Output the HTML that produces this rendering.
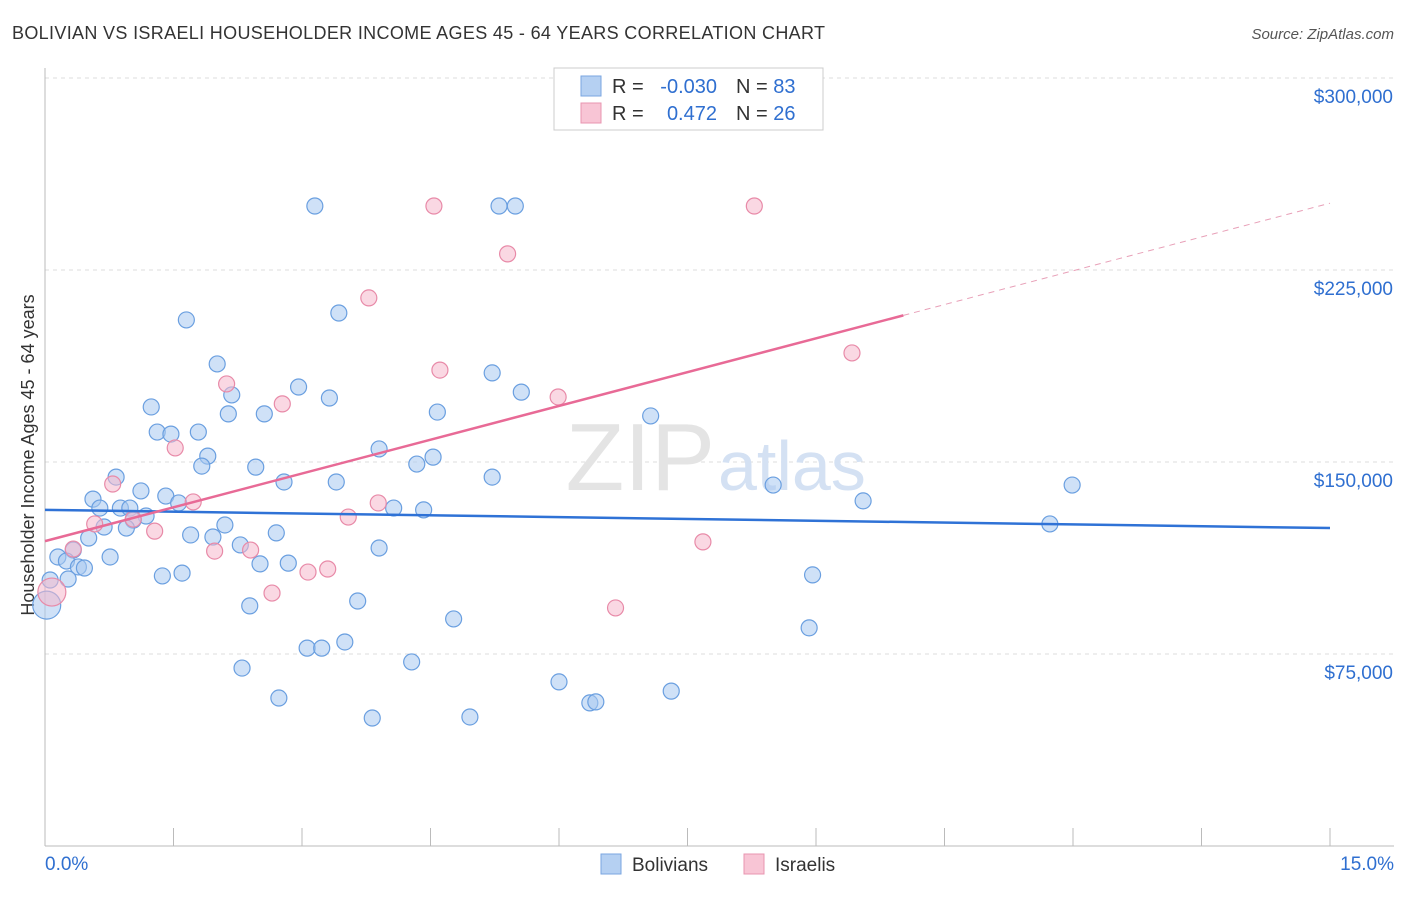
<!DOCTYPE html>
<html><head><meta charset="utf-8"><style>
body{margin:0;background:#fff;font-family:"Liberation Sans",sans-serif;}
svg text{font-family:"Liberation Sans",sans-serif;}
</style></head><body>
<svg width="1406" height="892" xmlns="http://www.w3.org/2000/svg">
<text x="12" y="39" font-size="18" fill="#333" textLength="813">BOLIVIAN VS ISRAELI HOUSEHOLDER INCOME AGES 45 - 64 YEARS CORRELATION CHART</text>
<text x="1394" y="39" font-size="15" fill="#555" font-style="italic" text-anchor="end">Source: ZipAtlas.com</text>
<g id="grid"></g>
<text x="715" y="490" font-size="96" fill="#e4e4e4" text-anchor="end" font-family="Liberation Serif">ZIP</text>
<text x="718" y="490" font-size="70" fill="#d4e1f3">atlas</text>
<g id="axes"></g>
<text transform="translate(34,455) rotate(-90)" font-size="18" fill="#333" text-anchor="middle">Householder Income Ages 45 - 64 years</text>
<g id="pts"></g>
<g id="lines"></g>
<g>
<rect x="554" y="68" width="269" height="62" fill="#fff" stroke="#ccc"/>
<rect x="581" y="76" width="20" height="20" fill="#b5d0f2" stroke="#7aa6e0"/>
<rect x="581" y="103" width="20" height="20" fill="#f8c5d5" stroke="#e895b0"/>
<text x="612" y="93" font-size="20" fill="#333">R =</text>
<text x="717" y="93" font-size="20" fill="#2f6fd0" text-anchor="end">-0.030</text>
<text x="736" y="93" font-size="20" fill="#333">N = <tspan fill="#2f6fd0">83</tspan></text>
<text x="612" y="120" font-size="20" fill="#333">R =</text>
<text x="717" y="120" font-size="20" fill="#2f6fd0" text-anchor="end">0.472</text>
<text x="736" y="120" font-size="20" fill="#333">N = <tspan fill="#2f6fd0">26</tspan></text>
</g>
<g>
<rect x="601" y="854" width="20" height="20" fill="#b5d0f2" stroke="#7aa6e0"/>
<text x="632" y="871" font-size="19" fill="#333">Bolivians</text>
<rect x="744" y="854" width="20" height="20" fill="#f8c5d5" stroke="#e895b0"/>
<text x="775" y="871" font-size="19" fill="#333">Israelis</text>
</g>
</svg>
<script>
const yTicks=[75000,150000,225000,300000];
const yTickLabels=["$75,000","$150,000","$225,000","$300,000"];
const xTickLabels=["0.0%","15.0%"];
const blueX=[3.15,5.30,5.49,3.43,1.65,2.01,5.22,2.96,5.56,3.32,2.18,1.24,2.56,2.14,4.58,7.07,1.31,1.79,1.47,3.90,1.90,4.53,1.83,2.46,4.34,0.83,5.22,2.79,3.40,8.50,11.99,1.12,1.41,0.56,1.56,9.55,0.64,0.88,0.99,4.07,4.42,1.18,1.03,0.69,0.95,2.10,11.73,2.70,1.70,1.96,0.51,2.28,3.90,0.33,0.76,0.15,0.25,0.39,0.46,2.51,2.84,1.37,1.60,8.96,0.27,0.06,3.65,2.39,4.77,8.92,3.50,3.06,3.23,4.28,2.30,6.00,7.31,2.73,6.36,6.43,3.82,4.96,0.02];
const blueY=[250,250,250,208.2,205.5,188.3,184.8,179.3,177.3,175.0,176.2,171.5,168.8,168.8,169.5,168.0,161.7,161.7,160.9,155.1,152.3,151.9,148.4,148.0,149.2,144.1,144.1,142.2,142.2,141.0,141.0,138.7,136.7,135.5,134.0,134.8,132.0,132.0,132.0,132.0,131.3,128.9,127.3,124.6,124.2,125.4,125.8,122.3,121.5,120.7,120.3,117.6,116.4,115.6,112.9,112.9,111.3,109.0,108.6,110.2,110.5,105.5,106.6,105.9,104.3,103.9,95.7,93.8,88.7,85.2,79.7,77.3,77.3,71.9,69.5,64.1,60.5,57.8,55.9,56.3,50.0,50.4,94.1];
const pinkX=[4.54,8.28,5.40,3.78,9.42,4.61,2.12,5.99,2.77,1.52,0.79,1.73,3.89,0.58,1.03,1.28,3.54,0.33,2.40,1.98,7.68,3.07,3.30,2.65,6.66,0.08];
const pinkY=[250,250,231.3,214.1,192.6,185.9,180.5,175.4,172.7,155.5,141.4,134.4,134.0,125.8,127.7,123.0,128.5,116.0,115.6,115.2,118.8,107.0,108.2,98.8,93.0,99.2];
const blueTrend=[131.3,124.2];
const pinkTrend=[119.1,8.8];
const NS="http://www.w3.org/2000/svg";
const X=v=>45+v/15*1285;
const Y=k=>846-k*1000/75000*192;
function mk(t,a,p){const e=document.createElementNS(NS,t);for(const k in a)e.setAttribute(k,a[k]);p.appendChild(e);return e;}
const grid=document.getElementById('grid'),axes=document.getElementById('axes');
yTicks.forEach((v,i)=>{const y=Y(v/1000);
 const l=mk('line',{x1:45,x2:1394,y1:y,y2:y,stroke:'#ddd','stroke-dasharray':'4,4'},grid);
 
 
 const t=mk('text',{x:1393,y:y+25,'font-size':19,fill:'#2f6fd0','text-anchor':'end'},axes);
 t.textContent=yTickLabels[i];
 
 
});
mk('line',{x1:45,x2:45,y1:68,y2:846,stroke:'#bbb'},axes);
mk('line',{x1:45,x2:1394,y1:846,y2:846,stroke:'#bbb'},axes);
for(let i=0;i<=10;i++){const x=X(i*1.5);const l=mk('line',{x1:x,x2:x,y1:828,y2:846,stroke:'#bbb'},axes);
 
 }
[[45,'start'],[1394,'end']].forEach((p,i)=>{const t=mk('text',{x:p[0],y:870,'font-size':19,fill:'#2f6fd0','text-anchor':p[1]},axes);t.textContent=xTickLabels[i];
 
 });
const pts=document.getElementById('pts');
function dots(xs,ys,fill,stroke,name){xs.forEach((x,i)=>{const big=i===xs.length-1;
 const c=mk('circle',{cx:X(x),cy:Y(ys[i]),r:big?14:8,fill:fill,'fill-opacity':0.55,stroke:stroke,'stroke-width':1.2},pts);
 
 });}
dots(blueX,blueY,'#a8c8f0','#6a9fe0','bolivian-point');
dots(pinkX,pinkY,'#f5b8cc','#e88aa8','israeli-point');
const lines=document.getElementById('lines');
const b=mk('line',{x1:X(0),y1:Y(blueTrend[0]),x2:X(15),y2:Y(blueTrend[1]),stroke:'#2f72d6','stroke-width':2.5},lines);


const pf=x=>pinkTrend[0]+pinkTrend[1]*x;
const p=mk('line',{x1:X(0),y1:Y(pf(0)),x2:X(10.02),y2:Y(pf(10.02)),stroke:'#e86a96','stroke-width':2.5},lines);


const pd=mk('line',{x1:X(10.02),y1:Y(pf(10.02)),x2:X(15),y2:Y(pf(15)),stroke:'#e8a0b8','stroke-width':1,'stroke-dasharray':'6,5'},lines);


</script>
</body></html>
